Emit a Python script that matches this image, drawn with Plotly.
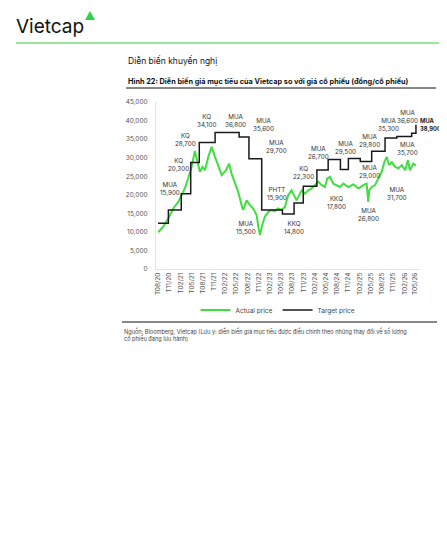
"""Vietcap report page: target price history vs. actual share price."""

import plotly.graph_objects as go

# Actual share price (dong/share)
actual_dates = [
    "2020-08-03", "2020-09-13", "2020-10-24", "2020-12-04", "2021-01-14", "2021-02-11",
    "2021-03-08", "2021-04-04", "2021-05-02", "2021-05-29", "2021-06-17", "2021-07-09",
    "2021-07-31", "2021-08-19", "2021-09-15", "2021-10-13", "2021-11-09", "2021-12-06",
    "2022-01-03", "2022-02-07", "2022-03-04", "2022-03-24", "2022-04-20", "2022-05-17",
    "2022-06-14", "2022-06-27", "2022-07-25", "2022-08-21", "2022-09-17", "2022-10-15",
    "2022-10-28", "2022-11-11", "2022-12-03", "2022-12-21", "2023-01-18", "2023-02-15",
    "2023-03-12", "2023-04-08", "2023-05-06", "2023-06-02", "2023-06-29", "2023-07-26",
    "2023-08-15", "2023-09-06", "2023-09-27", "2023-10-17", "2023-11-13", "2023-12-10",
    "2024-01-07", "2024-02-03", "2024-03-01", "2024-03-28", "2024-04-24", "2024-05-13",
    "2024-06-04", "2024-07-01", "2024-07-28", "2024-08-25", "2024-09-21", "2024-11-01",
    "2024-12-12", "2025-01-22", "2025-03-02", "2025-03-30", "2025-04-12", "2025-04-20",
    "2025-05-10", "2025-06-06", "2025-07-03", "2025-07-31", "2025-08-21", "2025-09-10",
    "2025-09-29", "2025-10-21", "2025-11-17", "2025-12-14", "2026-01-11", "2026-02-07",
    "2026-03-01", "2026-03-18", "2026-04-15", "2026-05-06",
]
actual_prices = [
    9900, 11400, 13600, 16300, 18100, 19900,
    21700, 24400, 27500, 31800, 29300, 26200,
    27500, 26600, 30200, 32900, 30200, 27500,
    25300, 26600, 28400, 25700, 23500, 20800,
    17200, 15900, 18500, 17200, 16300, 14500,
    11400, 9200, 12300, 14100, 15400, 15900,
    15600, 16300, 15900, 16700, 19900, 21200,
    19900, 18500, 19900, 21200, 20300, 21200,
    21700, 22600, 23500, 22600, 22100, 24400,
    24800, 23000, 22600, 22100, 23000, 22100,
    22800, 21700, 22600, 23000, 18100, 21200,
    22100, 22600, 24400, 26200, 28800, 30200,
    28000, 28800, 27500, 27100, 28000, 26600,
    29300, 26600, 28400, 27800,
]

# Vietcap target price, a step series
target_dates = [
    "2020-08-01", "2020-10-25", "2021-02-07", "2021-04-25", "2021-07-04", "2021-11-10",
    "2022-05-25", "2022-08-13", "2022-11-25", "2023-05-13", "2023-08-16", "2023-10-30",
    "2024-02-18", "2024-05-20", "2024-08-28", "2024-11-01", "2025-02-06", "2025-05-10",
    "2025-08-27", "2025-12-01", "2026-04-01", "2026-05-06",
]
target_prices = [
    12300, 15900, 20300, 28700, 34100, 36800,
    35600, 29700, 15900, 14800, 17800, 22300,
    26700, 29500, 26800, 29800, 29000, 31700,
    35300, 35700, 36600, 38900,
]

# Recommendation callouts: (text, date, price level where the label sits)
callouts = [
    ("MUA<br>15,900", "2020-11-07", 21600),
    ("KQ<br>20,300", "2021-01-14", 28100),
    ("KQ<br>28,700", "2021-03-16", 34800),
    ("KQ<br>34,100", "2021-09-01", 39800),
    ("MUA<br>36,800", "2022-04-26", 40000),
    ("MUA<br>35,600", "2022-12-08", 38700),
    ("MUA<br>29,700", "2023-03-26", 32900),
    ("PHTT<br>15,900", "2023-03-26", 20200),
    ("MUA<br>15,500", "2022-07-19", 11000),
    ("KKQ<br>14,800", "2023-08-15", 11000),
    ("KKQ<br>17,800", "2024-07-28", 17800),
    ("MUA<br>26,800", "2025-04-16", 14500),
    ("KQ<br>22,300", "2023-10-30", 25800),
    ("MUA<br>26,700", "2024-03-01", 31300),
    ("MUA<br>29,500", "2024-10-05", 32700),
    ("MUA<br>29,800", "2025-04-20", 34500),
    ("MUA<br>29,000", "2025-04-26", 26100),
    ("MUA<br>35,300", "2025-09-20", 38900),
    ("MUA<br>36,600", "2026-03-01", 40900),
    ("MUA<br>35,700", "2026-02-26", 32400),
    ("MUA<br>31,700", "2025-12-01", 20200),
]
last_callout = "<b>MUA<br>38,900</b>"

# the page sits 8 px in from the window corner (body margin)
OFF = 8
W, H = 447 - OFF, 549 - OFF
L, R, T, B = 148, 27, 94, 280
FONT = "Inter"


def px(x):
    """Window pixel x -> paper coordinate."""
    return (x - OFF - L) / (W - L - R)


def py(y):
    """Window pixel y (from top) -> paper coordinate."""
    return (H - B - (y - OFF)) / (H - T - B)


fig = go.Figure()

fig.add_trace(go.Scatter(
    x=actual_dates, y=actual_prices, mode="lines", name="Actual price",
    line=dict(color="#3fdf3f", width=2),
))
fig.add_trace(go.Scatter(
    x=target_dates, y=target_prices, mode="lines", name="Target price",
    line=dict(color="#1a1a1a", width=1.5, shape="hv"),
))

annotations = []
for text, d, v in callouts:
    annotations.append(dict(
        x=d, y=v, xref="x", yref="y", text=text, showarrow=False,
        font=dict(family=FONT, size=6.3, color="#333333"),
    ))
annotations.append(dict(
    x=target_dates[-1], y=target_prices[-1], xref="x", yref="y", text=last_callout,
    showarrow=False, xanchor="left", xshift=2, align="left",
    font=dict(family=FONT, size=5.8, color="#1a1a1a"),
))

# page furniture: logo, headings, source note
annotations += [
    dict(x=px(14), y=py(27), xref="paper", yref="paper", text="Vietcap",
         showarrow=False, xanchor="left", yanchor="middle",
         font=dict(family=FONT, size=19, color="#111111")),
    dict(x=px(126), y=py(61), xref="paper", yref="paper",
         text="Diễn biến khuyến nghị", showarrow=False, xanchor="left", yanchor="middle",
         font=dict(family=FONT, size=8.5, color="#111111")),
    dict(x=px(126), y=py(82), xref="paper", yref="paper",
         text="<b>Hình 22: Diễn biến giá mục tiêu của Vietcap so với giá cổ phiếu (đồng/cổ phiếu)</b>",
         showarrow=False, xanchor="left", yanchor="middle",
         font=dict(family=FONT, size=7.3, color="#111111")),
    dict(x=px(122), y=py(325), xref="paper", yref="paper",
         text=("Nguồn: Bloomberg, Vietcap (Lưu ý: diễn biến giá mục tiêu được điều chỉnh theo "
               "những thay đổi về số lượng<br>cổ phiếu đang lưu hành)"),
         showarrow=False, xanchor="left", yanchor="top", align="left",
         font=dict(family=FONT, size=5.6, color="#444444")),
]

shapes = [
    # green rule under the logo
    dict(type="line", xref="paper", yref="paper", x0=px(16), x1=px(447), y0=py(43), y1=py(43),
         line=dict(color="#7ddc7d", width=1.5)),
    # logo triangle
    dict(type="path", xref="paper", yref="paper",
         path=f"M {px(85)} {py(20)} L {px(95)} {py(20)} L {px(90)} {py(11)} Z",
         fillcolor="#2fd44a", line=dict(width=0)),
    # underline of figure caption
    dict(type="line", xref="paper", yref="paper", x0=px(126), x1=px(436), y0=py(88), y1=py(88),
         line=dict(color="#111111", width=1)),
    # rule above the source note
    dict(type="line", xref="paper", yref="paper", x0=px(122), x1=px(437), y0=py(322), y1=py(322),
         line=dict(color="#111111", width=1)),
]

fig.update_layout(
    width=W, height=H,
    margin=dict(l=L, r=R, t=T, b=B),
    paper_bgcolor="white", plot_bgcolor="white",
    font=dict(family=FONT, size=6.5, color="#555555"),
    annotations=annotations,
    shapes=shapes,
    legend=dict(
        orientation="h", x=px(278), y=py(310), xanchor="center", yanchor="middle",
        font=dict(family=FONT, size=6.5, color="#444444"), itemwidth=30,
        bgcolor="rgba(0,0,0,0)",
    ),
    showlegend=True,
)
fig.update_xaxes(
    type="date", range=["2020-07-16", "2026-06-08"],
    tick0="2020-08-01", dtick="M3", tickformat="T%m/%y", tickangle=-90,
    showgrid=False, zeroline=False, showline=True, linecolor="#e3e3e3", linewidth=1,
    ticks="", tickfont=dict(family=FONT, size=6.5, color="#555555"),
)
fig.update_yaxes(
    range=[0, 45000], dtick=5000, tickformat=",d",
    showgrid=False, zeroline=False, showline=True, linecolor="#e3e3e3", linewidth=1,
    ticks="", ticklabelstandoff=6, tickfont=dict(family=FONT, size=6.5, color="#555555"),
)

fig.write_html("out.html")
